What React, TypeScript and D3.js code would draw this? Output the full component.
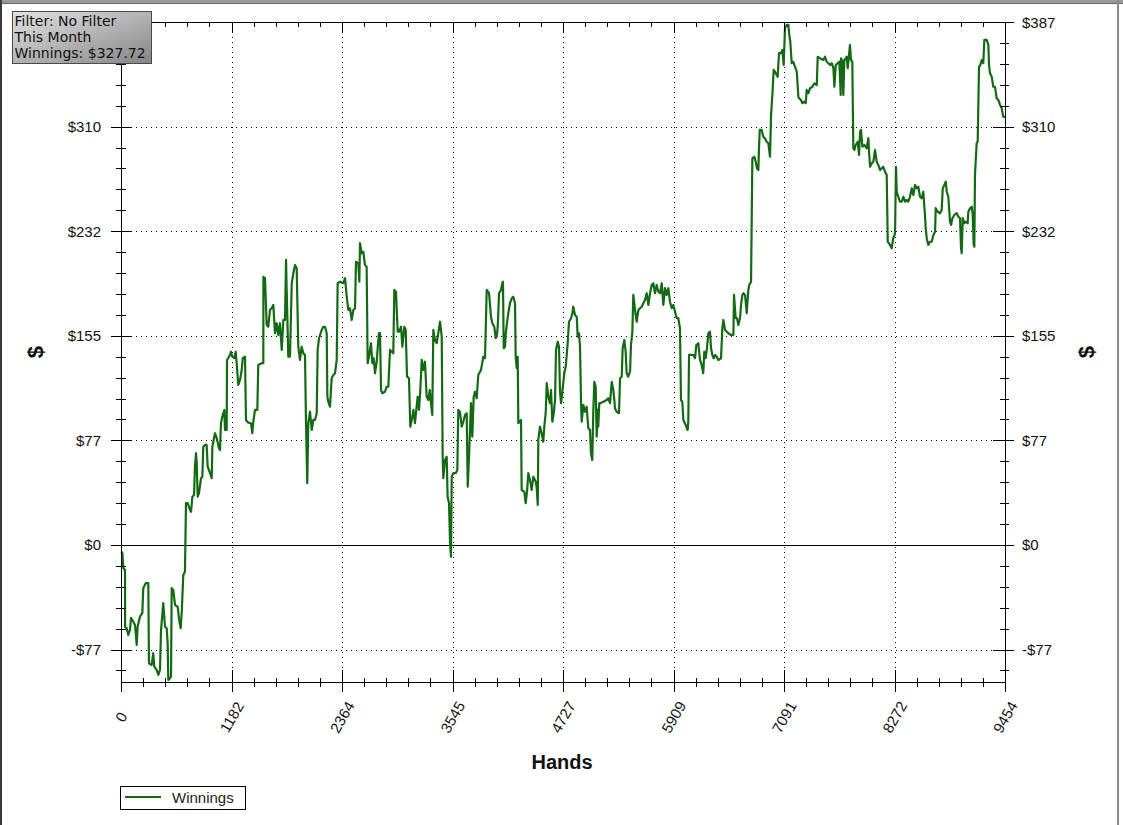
import React from 'react';
import * as d3 from 'd3';

// ---- data ----
const xTickLabels = ['0', '1182', '2364', '3545', '4727', '5909', '7091', '8272', '9454'];
const yTickLabels = ['-$77', '$0', '$77', '$155', '$232', '$310', '$387'];
const yTickValues = [-77.4, 0, 77.4, 154.8, 232.2, 309.6, 387];
const infoLines = ['Filter: No Filter', 'This Month', 'Winnings: $327.72'];
const seriesName = 'Winnings';
const handsMax = 9454;
const dollarsMin = -101.4;
const dollarsMax = 387;

// [hand number, cumulative winnings $]
const winningsByHand: [number, number][] = [
  [0,-5],[14,-5.7],[25,-17],[43,-18.5],[44,-60.7],[61,-61.6],[78,-66.6],[96,-62.9],[107,-54],[132,-56.8],
  [150,-59.2],[168,-74],[178,-60.5],[203,-53],[228,-50.5],[238,-32],[264,-28.3],[292,-28.3],[299,-87.5],[328,-88.8],
  [345,-80.1],[356,-90],[382,-92.5],[399,-96.2],[417,-92.5],[428,-62.9],[452,-43.1],[471,-60.5],[489,-61.6],[499,-72.7],
  [506,-99.9],[524,-98.6],[535,-97.5],[542,-32],[559,-33.3],[578,-44.4],[606,-45.7],[620,-54.2],[638,-61.6],[649,-50.5],
  [666,-22.2],[684,-19.8],[695,30.9],[713,30.9],[738,25.9],[749,24.6],[763,35.7],[781,37],[791,57.9],[802,67.9],
  [810,60.5],[820,35.7],[834,38.3],[856,49.4],[870,50.5],[880,72.7],[898,74],[916,74],[927,57.9],[952,53.1],
  [970,49.4],[977,72.7],[1005,82.7],[1024,79],[1048,71.6],[1059,70.3],[1069,90.1],[1083,94.9],[1105,99.9],[1112,85.1],
  [1130,85.1],[1134,136.9],[1166,140.6],[1176,143],[1190,139.3],[1212,138.2],[1227,143],[1237,134.5],[1254,118.4],[1273,122.1],
  [1291,129.5],[1302,138.2],[1326,139.3],[1337,92.5],[1361,90.5],[1390,90.1],[1404,82.7],[1415,91.2],[1433,99.9],[1458,99.9],
  [1468,133.2],[1505,134.5],[1522,134.5],[1523,198.5],[1540,197.4],[1558,162.8],[1575,161.5],[1593,173.9],[1612,175.2],[1629,177.6],
  [1647,156.7],[1665,164.1],[1682,155.4],[1700,164.1],[1719,144.3],[1736,166.5],[1754,166.5],[1765,210.9],[1772,188.7],[1789,139.3],
  [1807,139.3],[1826,193.7],[1843,201.1],[1861,207.2],[1879,204.8],[1896,146.7],
  [1914,136.9],[1932,146.7],[1950,141.8],[1968,140.6],[1978,92.5],[1992,45.7],[2003,90.1],[2021,98.6],[2040,85.1],[2057,92.5],
  [2075,92.5],[2093,97.5],[2103,144.3],[2118,153],[2146,159.1],[2164,161.5],[2182,161.5],[2200,156.7],[2207,109.7],[2217,106],
  [2235,102.3],[2253,123.4],[2271,125.8],[2289,127.1],[2307,136.9],[2317,193.7],[2342,194.8],[2377,193.7],[2396,197.4],[2414,183.7],
  [2431,173.9],[2449,175.2],[2467,166.5],[2485,173.9],[2503,175.2],[2513,209.6],[2538,208.5],[2549,194.8],[2556,223.3],[2574,215.9],
  [2591,217],[2609,207.2],[2627,205.9],[2638,134.5],[2652,139.3],[2674,149.3],[2688,134.5],[2703,138.2],[2716,127.1],[2735,135.6],
  [2745,145.6],[2759,156.7],[2770,156.7],[2781,114.7],[2795,112.3],[2823,113.4],[2842,117.1],[2859,117.1],[2877,144.3],[2895,143],
  [2912,141.8],[2923,188.7],[2941,187.4],[2959,157.8],[2973,157.8],[2995,161.5],[3009,146.7],[3030,161.5],[3045,159.1],[3059,124.5],
  [3080,123.4],[3094,87.5],[3116,94.9],[3127,99.9],[3144,90.1],[3158,99.9],[3173,109.7],[3187,99.9],[3201,114.7],[3216,136.9],
  [3233,129.5],[3251,135.6],[3269,109.7],[3287,107.3],[3302,114.7],[3315,104.9],[3329,96.2],[3340,159.1],[3358,151.7],[3376,149.3],
  [3393,156.7],[3412,165.2],[3430,154.1],[3440,65.3],[3447,49.4],[3465,62.9],[3483,65.3],[3493,35.7],[3508,30.9],[3519,1.3],
  [3529,-8.7],[3537,50.5],[3554,53.1],[3579,53.1],[3597,55.5],[3607,99.9],[3625,98.6],[3644,87.5],[3661,91.2],[3679,96.2],
  [3697,97.5],[3708,43.1],[3722,65.3],[3743,104.9],[3757,80.1],[3772,109.7],[3786,113.4],
  [3804,108.6],[3821,125.8],[3850,129.5],[3875,139.3],[3893,138.2],[3911,188.7],[3936,186.3],[3957,168.9],[3971,164.1],[3992,161.5],
  [4007,153],[4018,154.1],[4029,161.5],[4043,186.3],[4064,188.7],[4078,193.7],[4085,194.8],[4093,145.6],[4107,146.7],[4115,156.7],
  [4128,164.1],[4142,171.5],[4160,178.9],[4179,182.5],[4195,183.7],[4214,178.9],[4221,139.3],[4232,130.8],[4243,139.3],[4249,90.1],
  [4278,92.5],[4285,40.7],[4313,39.4],[4328,30.9],[4342,39.4],[4356,53.1],[4374,48.1],[4392,40.7],[4410,50.5],[4436,46.8],
  [4446,42],[4457,29.6],[4463,77.7],[4481,87.5],[4499,82.7],[4516,76.4],[4527,87.5],[4542,97.5],[4553,119.7],[4570,109.7],
  [4588,104.9],[4599,114.7],[4613,91.2],[4628,97.5],[4642,107.3],[4652,144.3],[4670,150.4],[4684,146.7],[4695,113.4],[4706,104.9],
  [4720,113.4],[4741,127.1],[4756,131.9],[4777,149.3],[4791,165.2],[4813,167.8],[4827,171.5],[4837,176.3],[4855,170.2],[4874,168.9],
  [4884,154.1],[4898,156.7],[4909,146.7],[4920,104.9],[4927,91.2],[4945,103.6],[4962,98.6],[4980,102.3],[4998,86.4],[5016,85.1],
  [5026,67.9],[5040,62.9],[5051,98.6],[5062,120.8],[5077,117.1],[5087,80.1],[5098,99.9],[5104,87.5],[5115,104.9],[5126,104.9],
  [5158,106],[5194,107.3],[5211,108.6],[5230,104.9],[5248,120.8],[5265,114.7],[5276,107.3],[5283,101.2],[5301,98.6],[5326,97.5],
  [5337,123.4],[5355,124.5],[5365,145.6],[5383,151.7],[5397,143],[5408,127.1],[5425,124.5],[5444,128.2],[5454,148],[5468,156.7],
  [5479,185],[5497,173.9],[5515,165.2],[5533,173.9],[5551,175.2],[5569,176.3],[5586,178.9],[5604,181.3],[5622,186.3],[5640,177.6],
  [5658,186.3],[5676,192.4],[5693,193.7],[5711,186.3],[5729,192.4],[5747,187.4],
  [5765,186.3],[5783,193.7],[5800,177.6],[5818,190],[5836,185],[5853,190],[5871,180],[5890,175.2],[5907,177.6],[5925,172.6],
  [5943,167.8],[5960,167.8],[5978,160.4],[5989,107.3],[6003,106],[6014,92.5],[6039,88.8],[6060,85.1],[6067,91.2],[6075,140.6],
  [6096,140.6],[6121,140.6],[6139,138.2],[6153,148],[6174,149.3],[6192,136.9],[6210,133.2],[6227,127.1],[6238,143],[6253,138.2],
  [6267,145.6],[6281,156.7],[6299,157.8],[6310,145.6],[6324,140.6],[6339,138.2],[6353,140.6],[6371,139.3],[6388,136.9],[6417,138.2],
  [6431,160.4],[6442,166.5],[6460,159.1],[6495,156.7],[6524,155.4],[6549,155.4],[6556,185],[6574,167.8],[6588,167.8],[6602,162.8],
  [6620,167.8],[6631,177.6],[6645,185],[6656,186.3],[6674,185],[6692,171.5],[6709,188.7],[6719,192.4],[6738,194.8],[6745,240.5],
  [6752,286.1],[6773,287.3],[6788,283.6],[6802,278.7],[6816,277.5],[6823,293.5],[6831,307.1],[6852,307.1],[6869,302.1],[6887,300.9],
  [6905,298.4],[6923,297.3],[6941,287.3],[6952,318.2],[6966,333],[6980,351.5],[6994,350.2],[7012,347.8],[7023,346.5],[7037,363.9],
  [7058,363.9],[7073,366.3],[7087,355.2],[7101,382.3],[7120,384.8],[7137,384.8],[7147,377.4],[7158,372.4],[7173,356.5],[7190,357.6],
  [7201,355.2],[7227,350.2],[7244,331.7],[7251,330.6],[7272,329.3],[7287,326.9],[7308,328],[7323,326.9],[7333,336.7],[7351,334.3],
  [7369,338],[7394,339.1],[7415,341.6],[7441,340.4],[7451,361.3],[7476,360.1],[7511,358.9],[7529,361.3],[7547,357.6],[7565,356.5],
  [7583,355.2],[7601,356.5],[7619,352.8],[7629,339.1],[7644,355.2],[7665,356.5],[7682,357.6],[7697,333],
  [7701,360.1],[7715,357.6],[7725,333],[7736,358.9],[7750,360.1],[7761,361.3],[7772,352.8],[7786,362.6],[7796,370],[7807,358.9],
  [7821,357.6],[7832,293.5],[7843,292.3],[7857,296],[7879,298.4],[7893,288.6],[7904,305.8],[7914,307.1],[7929,294.7],[7950,296],
  [7975,293.5],[7993,301],[8000,291],[8011,279.9],[8029,282.4],[8046,283.6],[8064,292.3],[8082,283.6],[8099,281.2],[8117,277.5],
  [8135,278.7],[8153,279.9],[8171,276.2],[8189,273.8],[8200,224.4],[8224,222],[8242,219.5],[8259,227],[8278,230.6],[8288,279.9],
  [8296,261.4],[8313,257.7],[8331,254],[8349,254],[8367,257.7],[8385,254],[8403,255.3],[8420,254],[8438,257.7],[8456,263.9],
  [8474,259],[8492,266.4],[8510,263.9],[8527,265.1],[8545,257.7],[8563,256.6],[8580,261.4],[8598,244.2],[8606,234.3],[8617,227],
  [8634,222],[8652,224.4],[8670,224.4],[8688,229.4],[8706,231.8],[8713,249.2],[8735,246.6],[8759,245.5],[8777,247.9],[8788,263.9],
  [8805,266.4],[8820,268.8],[8831,261.4],[8848,257.7],[8866,239.2],[8877,236.8],[8891,241.8],[8912,244.2],[8938,245.5],[8955,242.9],
  [8973,241.8],[8984,219.5],[8991,215.9],[9002,241.8],[9019,238.1],[9034,239.2],[9055,238.1],[9062,246.6],[9080,249.2],[9098,250.3],
  [9109,244.2],[9119,222],[9126,220.7],[9133,273.8],[9151,297.3],[9162,298.4],[9176,353.9],[9190,355.2],[9205,358.9],[9222,356.5],
  [9233,373.7],[9258,373.7],[9276,370],[9283,355.2],[9294,349],[9312,346.5],[9329,339.1],[9347,339.1],[9365,330.5],[9383,329.3],
  [9401,325.6],[9419,323.1],[9436,316.9],[9454,316.7],
];

const W = 1123;
const H = 825;
const GREEN = '#146a14';
const TICK_FONT = '"Liberation Sans", Arial, sans-serif';

export default function App() {
  const x = d3.scaleLinear().domain([0, handsMax]).range([121, 1005]);
  const y = d3.scaleLinear().domain([dollarsMin, dollarsMax]).range([682, 22]);
  const [x0, x1] = x.range();
  const [yb, yt] = y.range();

  const xStep = handsMax / (xTickLabels.length - 1);
  const xMajor = xTickLabels.map((_, i) => i * xStep);
  const xMinor = d3.range(0, 41).map((k) => (k * xStep) / 5);
  const yMinorStep = yTickValues[2] / 5;
  const yMinor = d3
    .range(Math.ceil(dollarsMin / yMinorStep), Math.floor(dollarsMax / yMinorStep + 0.01) + 1)
    .map((k) => k * yMinorStep);

  const line = d3
    .line<[number, number]>()
    .x((d) => x(d[0]))
    .y((d) => y(d[1]));

  const px = (v: number) => Math.round(v) + 0.5;

  return (
    <svg
      width={W}
      height={H}
      style={{ position: 'fixed', left: 0, top: 0, display: 'block', background: '#fff' }}
    >
      <defs>
        <linearGradient id="infoGrad" x1="0" y1="0" x2="1" y2="1">
          <stop offset="0" stopColor="#e2e2e2" />
          <stop offset="1" stopColor="#858585" />
        </linearGradient>
      </defs>
      <rect x={0} y={0} width={W} height={H} fill="#fff" />
      {/* window frame */}
      <rect x={0} y={0} width={W} height={3} fill="#9a9a9a" />
      <line x1={0} x2={W} y1={3.5} y2={3.5} stroke="#6a6a6a" />
      <rect x={0} y={0} width={2} height={H} fill="#3a3a3a" />
      <rect x={1117} y={0} width={2} height={H} fill="#8a8a8a" />

      {/* grid */}
      <g stroke="#000" strokeWidth={1} strokeDasharray="1,4" shapeRendering="crispEdges">
        {xMajor.slice(1, -1).map((v, i) => (
          <line key={'gx' + i} x1={px(x(v))} x2={px(x(v))} y1={yt} y2={yb} />
        ))}
        {yTickValues
          .filter((v) => v !== 0 && v < dollarsMax)
          .map((v, i) => (
            <line key={'gy' + i} x1={x0} x2={x1} y1={px(y(v))} y2={px(y(v))} />
          ))}
      </g>
      {/* zero line */}
      <line x1={x0} x2={x1} y1={px(y(0))} y2={px(y(0))} stroke="#000" shapeRendering="crispEdges" />

      {/* series */}
      <path d={line(winningsByHand) || ''} fill="none" stroke={GREEN} strokeWidth={2.2} strokeLinejoin="round" />

      {/* plot frame + ticks */}
      <g stroke="#000" strokeWidth={1} shapeRendering="crispEdges">
        <rect x={px(x0)} y={px(yt)} width={Math.round(x1 - x0)} height={Math.round(yb - yt)} fill="none" />
        {xMinor.map((v, i) => {
          const major = i % 5 === 0;
          const xx = px(x(v));
          return (
            <g key={'xt' + i}>
              <line x1={xx} x2={xx} y1={major ? yb - 12 : yb - 4} y2={major ? yb + 10 : yb + 5} />
              <line x1={xx} x2={xx} y1={yt} y2={major ? yt + 10 : yt + 5} />
            </g>
          );
        })}
        {yMinor.map((v, i) => {
          const major = Math.abs(Math.round(v / yMinorStep)) % 5 === 0;
          const yy = px(y(v));
          return (
            <g key={'yt' + i}>
              <line x1={major ? x0 - 10 : x0 - 5} x2={major ? x0 + 11 : x0 + 5} y1={yy} y2={yy} />
              <line x1={major ? x1 - 12 : x1 - 5} x2={major ? x1 + 9 : x1 + 4} y1={yy} y2={yy} />
            </g>
          );
        })}
      </g>

      {/* y tick labels (the top-left one is hidden under the info box in the reference) */}
      <g fontFamily={TICK_FONT} fontSize={15} fill="#111">
        {yTickValues.map((v, i) => (
          <g key={'yl' + i}>
            {v < dollarsMax && (
              <text x={101} y={y(v)} textAnchor="end" dominantBaseline="central">
                {yTickLabels[i]}
              </text>
            )}
            <text x={1022} y={y(v)} textAnchor="start" dominantBaseline="central">
              {yTickLabels[i]}
            </text>
          </g>
        ))}
      </g>

      {/* x tick labels */}
      <g fontFamily={TICK_FONT} fontSize={15} fill="#111">
        {xMajor.map((v, i) => (
          <text
            key={'xl' + i}
            transform={`translate(${x(v)},717) rotate(-60)`}
            textAnchor="middle"
            dominantBaseline="central"
          >
            {xTickLabels[i]}
          </text>
        ))}
      </g>

      {/* axis titles */}
      <text x={562} y={762} textAnchor="middle" dominantBaseline="central" fontFamily={TICK_FONT} fontWeight="bold" fontSize={20} fill="#111">
        Hands
      </text>
      <text transform="translate(35,352) rotate(-90)" textAnchor="middle" dominantBaseline="central" fontFamily={TICK_FONT} fontWeight="bold" fontSize={22} fill="#111">
        $
      </text>
      <text transform="translate(1086,352) rotate(-90)" textAnchor="middle" dominantBaseline="central" fontFamily={TICK_FONT} fontWeight="bold" fontSize={22} fill="#111">
        $
      </text>

      {/* legend */}
      <rect x={120.5} y={786.5} width={125} height={23} fill="#fff" stroke="#000" shapeRendering="crispEdges" />
      <line x1={125} x2={161} y1={797} y2={797} stroke={GREEN} strokeWidth={2} />
      <text x={172} y={797.5} dominantBaseline="central" fontFamily={TICK_FONT} fontSize={15} fill="#222">
        {seriesName}
      </text>

      {/* info box */}
      <rect x={12.5} y={11.5} width={139} height={52} fill="url(#infoGrad)" stroke="#4a4a4a" shapeRendering="crispEdges" />
      <g fontFamily='"DejaVu Sans", Verdana, sans-serif' fontSize={14} fill="#111">
        {infoLines.map((t, i) => (
          <text key={'il' + i} x={14.5} y={26 + i * 15.8}>
            {t}
          </text>
        ))}
      </g>
    </svg>
  );
}
